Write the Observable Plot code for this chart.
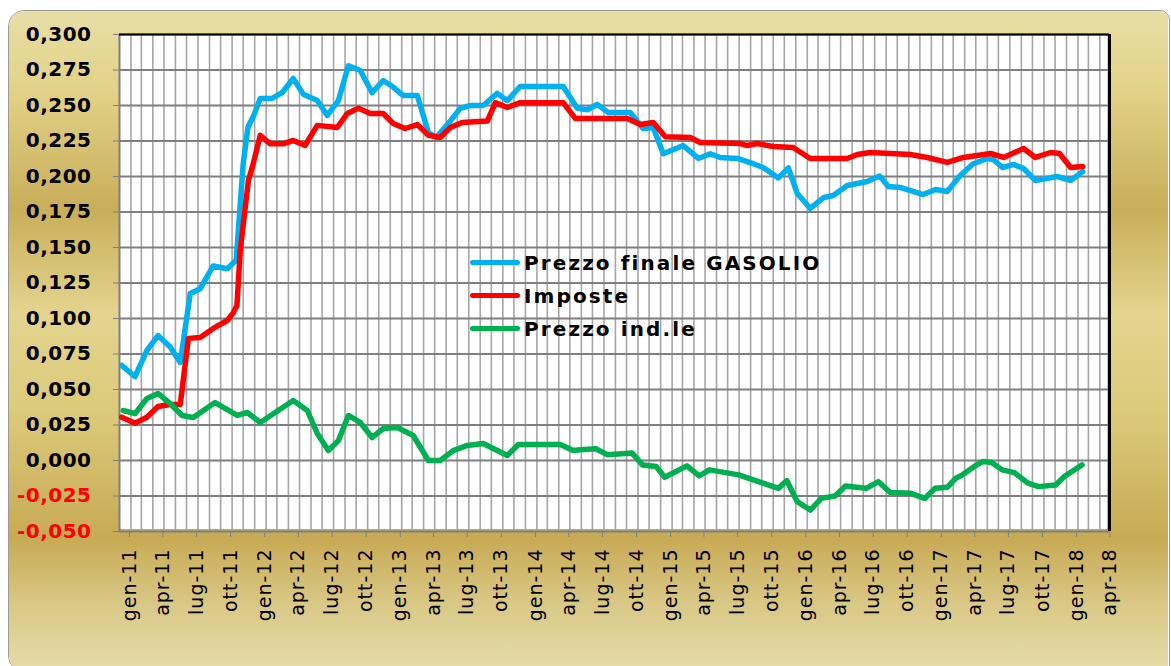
<!DOCTYPE html>
<html>
<head>
<meta charset="utf-8">
<script src="https://cdn.jsdelivr.net/npm/d3@7"></script>
<script src="https://cdn.jsdelivr.net/npm/@observablehq/plot@0.6"></script>
<style>
  html, body { margin: 0; padding: 0; background: #ffffff; }
  #wrap { position: relative; width: 1171px; height: 666px; overflow: hidden; font-family: "DejaVu Sans", Verdana, sans-serif; background: #ffffff; }
  #panel {
    position: absolute; left: 8px; top: 10px; width: 1162px; height: 662px;
    border: 1.5px solid #9a9a9a; border-radius: 16px 10px 0 16px; box-sizing: border-box;
    overflow: hidden;
  }
  .strip {
    position: absolute;
    background-image: linear-gradient(to bottom,
      #e8dea6 0%, #e2d288 12%, #c9ae5a 30%, #e3d48e 46%, #dccb7c 60%, #c8aa55 80%, #d9c886 90%, #e6dcaa 100%);
    background-size: 1159px 659px;
    background-repeat: no-repeat;
  }
  #sl { left: 0; top: 0; width: 111px; height: 659px; background-position: 0 0; }
  #sr { left: 1098px; top: 0; width: 61px; height: 659px; background-position: -1098px 0; }
  #st { left: 111px; top: 0; width: 987px; height: 24px; background-position: -111px 0; }
  #sb { left: 111px; top: 518px; width: 987px; height: 141px; background-position: -111px -518px; }
  #chart { position: absolute; left: 0; top: 0; }
  #legend { position: absolute; left: 468px; top: 246px; }
  .row { display: flex; align-items: center; height: 33px; }
  .sw { width: 50px; height: 5px; border-radius: 3px; margin-left: 2px; }
  .lab { margin-left: 4px; font-size: 20px; font-weight: bold; letter-spacing: 2.1px; color: #000; }
</style>
</head>
<body>
<div id="wrap">
  <div id="panel">
    <div class="strip" id="sl"></div>
    <div class="strip" id="sr"></div>
    <div class="strip" id="st"></div>
    <div class="strip" id="sb"></div>
  </div>
  <div id="chart"></div>
  <div id="legend"></div>
</div>
<script>
// ---- Data ----
const seriesNames = ["Prezzo finale GASOLIO", "Imposte", "Prezzo ind.le"];
const seriesColors = ["#00b0f0", "#ff0000", "#00b050"];

const prezzoDates = ["2011-01-07","2011-02-12","2011-03-16","2011-04-15","2011-05-18","2011-06-14","2011-07-11","2011-08-07","2011-09-11","2011-10-19","2011-11-12","2011-12-01","2011-12-14","2011-12-28","2012-01-16","2012-02-17","2012-03-15","2012-04-14","2012-05-11","2012-06-18","2012-07-15","2012-08-14","2012-09-10","2012-10-12","2012-11-13","2012-12-13","2013-01-09","2013-02-05","2013-03-15","2013-04-14","2013-05-05","2013-06-12","2013-07-09","2013-08-05","2013-09-09","2013-10-17","2013-11-13","2013-12-18","2014-04-13","2014-05-21","2014-06-17","2014-07-14","2014-08-13","2014-10-11","2014-11-15","2014-12-12","2015-01-08","2015-03-03","2015-04-13","2015-05-15","2015-06-11","2015-07-27","2015-09-08","2015-10-05","2015-11-15","2015-12-12","2016-01-05","2016-02-09","2016-03-15","2016-04-11","2016-05-19","2016-07-12","2016-08-14","2016-09-07","2016-10-09","2016-12-10","2017-01-12","2017-02-13","2017-03-20","2017-04-24","2017-06-01","2017-06-17","2017-07-12","2017-08-11","2017-09-07","2017-10-09","2017-12-07","2018-01-12","2018-02-14"];
const prezzoValues = [0.067,0.059,0.0775,0.088,0.080,0.069,0.1176,0.121,0.137,0.135,0.141,0.209,0.235,0.242,0.255,0.255,0.259,0.269,0.258,0.2535,0.243,0.2535,0.278,0.2746,0.259,0.2676,0.263,0.257,0.257,0.231,0.2275,0.239,0.248,0.250,0.250,0.2585,0.2535,0.2634,0.2634,0.248,0.247,0.2507,0.245,0.245,0.2338,0.2345,0.216,0.2218,0.2127,0.216,0.2134,0.2127,0.209,0.2063,0.199,0.206,0.188,0.1775,0.185,0.1866,0.1937,0.1965,0.2003,0.193,0.1923,0.1873,0.1908,0.1894,0.2007,0.209,0.2127,0.212,0.2063,0.2085,0.2056,0.1972,0.200,0.1972,0.2035];

const imposteDates = ["2011-01-07","2011-02-12","2011-03-16","2011-04-15","2011-05-18","2011-06-14","2011-07-06","2011-08-07","2011-09-11","2011-10-19","2011-11-04","2011-11-14","2011-11-23","2011-12-15","2011-12-28","2012-01-16","2012-02-12","2012-03-18","2012-04-14","2012-05-16","2012-06-18","2012-08-11","2012-09-07","2012-10-07","2012-11-08","2012-12-13","2013-01-09","2013-02-10","2013-03-15","2013-04-14","2013-05-16","2013-06-12","2013-07-14","2013-09-20","2013-10-12","2013-11-13","2013-12-18","2014-04-13","2014-05-16","2014-10-03","2014-11-07","2014-12-12","2015-01-14","2015-03-22","2015-04-18","2015-08-04","2015-08-23","2015-09-19","2015-11-01","2015-12-25","2016-02-09","2016-05-19","2016-06-15","2016-07-20","2016-11-05","2016-12-21","2017-02-13","2017-03-29","2017-06-10","2017-07-15","2017-09-07","2017-10-09","2017-11-19","2017-12-13","2018-01-12","2018-02-14"];
const imposteValues = [0.0305,0.0263,0.0305,0.038,0.0394,0.0394,0.086,0.0866,0.093,0.0986,0.104,0.109,0.148,0.197,0.209,0.229,0.223,0.223,0.2254,0.2218,0.236,0.2345,0.2444,0.248,0.2444,0.2444,0.2373,0.2338,0.2366,0.229,0.2275,0.2345,0.238,0.239,0.252,0.2486,0.252,0.252,0.2408,0.2408,0.2366,0.238,0.228,0.2275,0.224,0.2232,0.2218,0.2232,0.2211,0.2204,0.2127,0.2127,0.2155,0.2169,0.2155,0.2134,0.2099,0.2134,0.2162,0.2134,0.2197,0.2134,0.2169,0.2162,0.2063,0.207];

const industrialeDates = ["2011-01-11","2011-02-12","2011-03-16","2011-04-15","2011-05-18","2011-06-19","2011-07-19","2011-09-16","2011-11-15","2011-12-12","2012-01-16","2012-04-14","2012-05-22","2012-06-18","2012-07-18","2012-08-14","2012-09-10","2012-10-12","2012-11-13","2012-12-13","2013-01-20","2013-03-04","2013-04-14","2013-05-16","2013-06-20","2013-07-28","2013-09-09","2013-11-13","2013-12-13","2014-04-05","2014-05-10","2014-05-29","2014-07-10","2014-08-11","2014-10-16","2014-11-13","2014-12-20","2015-01-12","2015-03-13","2015-04-15","2015-05-13","2015-07-31","2015-10-04","2015-11-15","2015-12-08","2016-01-05","2016-02-09","2016-03-10","2016-04-16","2016-05-14","2016-07-09","2016-08-11","2016-09-12","2016-11-07","2016-12-14","2017-01-11","2017-02-13","2017-03-08","2017-03-26","2017-05-03","2017-05-21","2017-06-13","2017-07-11","2017-08-13","2017-09-19","2017-10-17","2017-12-03","2017-12-26","2018-02-12"];
const industrialeValues = [0.0352,0.033,0.0437,0.0472,0.040,0.0317,0.0303,0.0408,0.0317,0.0338,0.0268,0.0422,0.0352,0.019,0.007,0.014,0.0317,0.0268,0.0162,0.0225,0.0232,0.0176,0.0,0.0,0.007,0.0106,0.012,0.0035,0.0113,0.0113,0.007,0.0075,0.0083,0.004,0.0052,-0.0031,-0.0042,-0.0118,-0.0038,-0.0108,-0.0066,-0.0101,-0.016,-0.0196,-0.0142,-0.029,-0.0349,-0.0267,-0.025,-0.0179,-0.0196,-0.0149,-0.0226,-0.0231,-0.0267,-0.0196,-0.0189,-0.0125,-0.0101,-0.0031,-0.0007,-0.0014,-0.0066,-0.0085,-0.016,-0.0184,-0.0172,-0.0113,-0.0031];

const yTicks = [-0.05,-0.025,0,0.025,0.05,0.075,0.1,0.125,0.15,0.175,0.2,0.225,0.25,0.275,0.3];
const xStart = "2011-01-01";
const xEnd = "2018-04-27";
const monthAbbr = ["gen","feb","mar","apr","mag","giu","lug","ago","set","ott","nov","dic"];

// ---- Build tables ----
const parse = s => new Date(s + "T00:00:00Z");
const toRows = (dates, values) => dates.map((d, i) => ({date: parse(d), value: values[i]}));
const prezzoRows = toRows(prezzoDates, prezzoValues);
const imposteRows = toRows(imposteDates, imposteValues);
const industrialeRows = toRows(industrialeDates, industrialeValues);

const x0 = parse(xStart), x1 = parse(xEnd);
const quarterTicks = d3.utcMonth.every(3).range(x0, parse("2018-04-02"));
const monthTicks = d3.utcMonth.range(d3.utcMonth.offset(x0, 1), x1);
const fmtY = d => (d < 0 ? "-" : "") + Math.abs(d).toFixed(3).replace(".", ",");
const fmtX = d => monthAbbr[d.getUTCMonth()] + "-" + String(d.getUTCFullYear()).slice(2);
const lineOpts = c => ({x: "date", y: "value", stroke: c, strokeWidth: 5.5, strokeLinejoin: "round", strokeLinecap: "round"});

const chart = Plot.plot({
  width: 1171,
  height: 666,
  marginLeft: 119,
  marginRight: 62,
  marginTop: 34,
  marginBottom: 135,
  style: {fontFamily: "DejaVu Sans, Verdana, sans-serif"},
  x: {type: "utc", domain: [x0, x1]},
  y: {domain: [-0.05, 0.3]},
  marks: [
    Plot.ruleX(monthTicks, {stroke: "#a6a6a6", strokeWidth: 1.6}),
    Plot.ruleY(yTicks, {stroke: "#7f7f7f", strokeWidth: 2}),
    Plot.ruleX([x0], {stroke: "#7f7f7f", strokeWidth: 2}),
    Plot.ruleY([0.3], {stroke: "#000000", strokeWidth: 2}),
    Plot.ruleX([x1], {stroke: "#000000", strokeWidth: 3}),
    Plot.axisY({ticks: yTicks.filter(t => t >= 0), tickFormat: fmtY, tickSize: 6, tickPadding: 22,
      fontSize: 20, fontWeight: "bold", stroke: "#7f7f7f", fill: "#000000", label: null}),
    Plot.axisY({ticks: yTicks.filter(t => t < 0), tickFormat: fmtY, tickSize: 6, tickPadding: 22,
      fontSize: 20, fontWeight: "bold", stroke: "#7f7f7f", fill: "#ff0000", label: null}),
    Plot.axisX({ticks: quarterTicks, tickFormat: fmtX, tickRotate: -90, tickSize: 6, tickPadding: 11,
      fontSize: 19, stroke: "#7f7f7f", fill: "#000000", dx: 10, label: null}),
    Plot.line(prezzoRows, lineOpts(seriesColors[0])),
    Plot.line(imposteRows, lineOpts(seriesColors[1])),
    Plot.line(industrialeRows, lineOpts(seriesColors[2]))
  ]
});
document.getElementById("chart").appendChild(chart);

// slight letter spacing of tick labels
d3.select(chart).selectAll("g").each(function() {
  const a = this.getAttribute("aria-label") || "";
  if (a.indexOf("x-axis tick label") === 0) d3.select(this).selectAll("text").attr("letter-spacing", 1);
  if (a.indexOf("y-axis tick label") === 0) d3.select(this).selectAll("text").attr("letter-spacing", 0.5);
});

// ---- Legend ----
const legend = document.getElementById("legend");
seriesNames.forEach((n, i) => {
  const row = document.createElement("div");
  row.className = "row";
  const sw = document.createElement("div");
  sw.className = "sw";
  sw.style.background = seriesColors[i];
  const lab = document.createElement("span");
  lab.className = "lab";
  lab.textContent = n;
  row.appendChild(sw);
  row.appendChild(lab);
  legend.appendChild(row);
});
</script>
</body>
</html>
